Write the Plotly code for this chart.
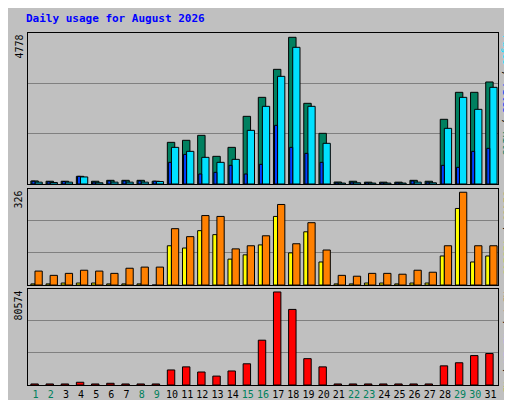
import plotly.graph_objects as go

days = list(range(1, 32))
hits = [100, 90, 90, 250, 90, 120, 120, 120, 90, 1357, 1423, 1585, 901, 1194, 2204, 2823, 3735, 4778,
        2628, 1650, 65, 90, 60, 60, 60, 120, 90, 2107, 2986, 2986, 3323]
files = [60, 50, 60, 230, 40, 60, 60, 60, 80, 1194, 1064, 869, 706, 803, 1748, 2530, 3507, 4452,
         2530, 1325, 30, 40, 30, 30, 30, 60, 40, 1813, 2823, 2432, 3149]
pages = [90, 70, 80, 250, 60, 100, 100, 100, 90, 706, 966, 326, 380, 608, 326, 641, 1911, 1194,
         999, 706, 40, 60, 40, 40, 40, 100, 60, 608, 543, 1064, 1162]
visits = [4, 4, 7, 7, 7, 4, 4, 4, 0, 138, 130, 191, 177, 91, 106, 141, 241, 113, 187, 81,
          4, 4, 7, 7, 4, 7, 7, 102, 269, 81, 102]
sites = [49, 34, 41, 52, 49, 41, 59, 63, 63, 198, 170, 244, 241, 127, 138, 173, 283, 145, 219, 123,
         34, 31, 41, 41, 38, 52, 45, 138, 326, 138, 138]
kbytes = [900, 900, 900, 2370, 900, 1480, 900, 900, 900, 13034, 15700, 11257, 7702, 12146, 18367,
          38807, 80574, 65468, 22810, 15700, 900, 900, 900, 900, 900, 900, 900, 16589, 19255, 25476, 27253]
weekend = [1, 2, 8, 9, 15, 16, 22, 23, 29, 30]
title = "Daily usage for August 2026"

FONT = "DejaVu Sans Mono"
ln = dict(color="black", width=1)

fig = go.Figure()
fig.add_trace(go.Bar(x=days, y=hits, marker=dict(color="#008060", line=ln), offset=-0.31, width=0.49, yaxis="y"))
fig.add_trace(go.Bar(x=days, y=files, marker=dict(color="#00E0FF", line=ln), offset=-0.04, width=0.48, yaxis="y"))
fig.add_trace(go.Bar(x=days, y=pages, marker=dict(color="#0040FF", line=ln), offset=-0.24, width=0.2, yaxis="y"))
fig.add_trace(go.Bar(x=days, y=visits, marker=dict(color="#FFFF00", line=ln), offset=-0.31, width=0.27, xaxis="x2", yaxis="y2"))
fig.add_trace(go.Bar(x=days, y=sites, marker=dict(color="#FF8000", line=ln), offset=-0.04, width=0.48, xaxis="x2", yaxis="y2"))
fig.add_trace(go.Bar(x=days, y=kbytes, marker=dict(color="#FF0000", line=ln), offset=-0.31, width=0.49, xaxis="x3", yaxis="y3"))

tick_text = [f"<span style='color:{'#00805C' if d in weekend else 'black'}'>{d}</span>" for d in days]
xcommon = dict(range=[0.5, 31.5], showgrid=False, zeroline=False, showline=True, linecolor="black",
               mirror=True, linewidth=1, automargin=False)
top_max = max(hits) * 151 / 146.7
mid_max = max(sites) * 96 / 92.7
bot_max = max(kbytes) * 94 / 91
ycommon = dict(showticklabels=False, ticks="", showgrid=True, gridcolor="#808080", gridwidth=1,
               zeroline=False, showline=True, linecolor="black", mirror=True, linewidth=1, automargin=False)

fig.update_layout(
    width=512, height=400, showlegend=False, barmode="overlay",
    margin=dict(l=20, r=22, t=25, b=23, autoexpand=False),
    paper_bgcolor="#C0C0C0", plot_bgcolor="#C0C0C0",
    font=dict(family=FONT, size=11, color="black"),
    xaxis=dict(xcommon, domain=[0, 1], anchor="y", showticklabels=False),
    xaxis2=dict(xcommon, domain=[0, 1], anchor="y2", showticklabels=False),
    xaxis3=dict(xcommon, domain=[0, 1], anchor="y3", tickvals=days, ticktext=tick_text, ticks="",
                tickangle=0, tickfont=dict(size=10)),
    yaxis=dict(ycommon, domain=[0.571, 1], range=[0, top_max], dtick=top_max / 3),
    yaxis2=dict(ycommon, domain=[0.284, 0.557], range=[0, mid_max], dtick=mid_max / 3),
    yaxis3=dict(ycommon, domain=[0, 0.273], range=[0, bot_max], dtick=bot_max / 3),
    title=dict(text=f"<b>{title}</b>", x=0.035, xanchor="left", y=0.985, yanchor="top",
               font=dict(family=FONT, size=11, color="#0000FF")),
)

for lab, yd in [(str(max(hits)), 1.0), (str(max(sites)), 0.557), (str(max(kbytes)), 0.273)]:
    fig.add_annotation(text=lab, textangle=-90, xref="paper", yref="paper", x=-0.004, y=yd,
                       xanchor="right", yanchor="top", showarrow=False, font=dict(size=10))

right = [
    ("<span style='color:#00E0FF'>Pages</span> / <span style='color:#0040FF'>Files</span> / "
     "<span style='color:#008060'>Hits</span>", 1.0),
    ("<span style='color:#FF8000'>Sites</span> / <span style='color:#FFFF00'>Visits</span>", 0.557),
    ("<span style='color:#FF0000'>kB F</span> / <span style='color:#0080FF'>kB In</span> / "
     "<span style='color:#00C000'>kB Out</span>", 0.273),
]
for lab, yd in right:
    fig.add_annotation(text=lab, textangle=90, xref="paper", yref="paper", x=1.003, y=yd,
                       xanchor="left", yanchor="top", showarrow=False, font=dict(size=10))

fig.write_html("out.html")
